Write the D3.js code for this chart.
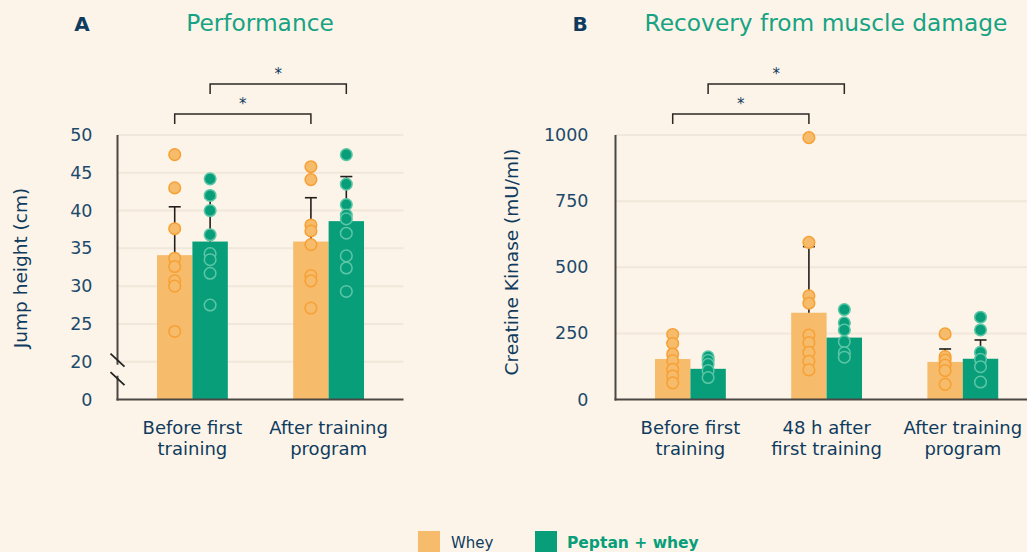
<!DOCTYPE html>
<html>
<head>
<meta charset="utf-8">
<script src="https://cdn.jsdelivr.net/npm/d3@7"></script>
<style>
  body { margin: 0; background: #fcf4e8; }
  svg { display: block; font-family: 'DejaVu Sans', Verdana, sans-serif; }
</style>
</head>
<body>
<svg></svg>
<script>
const w = 1027
const h = 552

// ---- panel A : jump height (cm) ----
const jumpGroups = [['Before first', 'training'], ['After training', 'program']]
const jumpTicks = [15, 20, 25, 30, 35, 40, 45, 50] // 15 sits under the break, shown as "0"
const jumpWheyMean = [34.1, 35.9]
const jumpWheySd = [6.4, 5.8]
const jumpPeptanMean = [35.9, 38.6]
const jumpPeptanSd = [5.8, 5.9]
const jumpWheyDots = [
  [47.4, 43.0, 37.6, 33.7, 32.6, 30.7, 30.0, 24.0],
  [45.8, 44.1, 38.1, 37.3, 35.5, 31.4, 30.7, 27.1]
]
const jumpPeptanDots = [
  [44.2, 42.0, 40.0, 36.8, 34.3, 33.5, 31.7, 27.5],
  [47.4, 43.5, 40.8, 39.4, 38.9, 37.0, 34.0, 32.4, 29.3]
]

// ---- panel B : creatine kinase (mU/ml) ----
const ckGroups = [['Before first', 'training'], ['48 h after', 'first training'], ['After training', 'program']]
const ckTicks = [0, 250, 500, 750, 1000]
const ckWheyMean = [153, 328, 142]
const ckWheySd = [62, 250, 49]
const ckPeptanMean = [116, 234, 154]
const ckPeptanSd = [32, 53, 71]
const ckWheyDots = [
  [246, 212, 172, 147, 114, 89, 63],
  [990, 594, 392, 364, 244, 215, 178, 144, 112],
  [248, 162, 149, 130, 109, 57]
]
const ckPeptanDots = [
  [161, 148, 133, 109, 83],
  [340, 290, 263, 219, 177, 160],
  [311, 263, 178, 152, 124, 66]
]

const seriesNames = ['Whey', 'Peptan + whey']

const col = {
  bg: '#fcf4e8',
  grid: '#f1e7da',
  axis: '#4a4744',
  navy: '#0f3b5f',
  tick: '#1c4a6c',
  teal: '#17a383',
  whey: '#f6bb6b',
  wheyStroke: '#f7a034',
  peptan: '#089e7a',
  peptanStroke: '#5cc6a6'
}

const svg = d3.select('svg')
  .attr('width', w)
  .attr('height', h)

svg.append('rect')
  .attr('width', w).attr('height', h)
  .attr('fill', col.bg)

const yTop = 135
const yBottom = 399.5

const panel = cfg => {
  const g = svg.append('g')

  const xScale = d3.scaleBand()
    .domain(d3.range(cfg.groups.length))
    .range([cfg.x0, cfg.x0 + 136.2 * (cfg.groups.length - 0.48 + 0.58)])
    .paddingInner(0.48)
    .paddingOuter(0.29)

  const subScale = d3.scaleBand()
    .domain([0, 1])
    .range([0, xScale.bandwidth()])

  const yScale = d3.scaleLinear()
    .domain(cfg.domain)
    .range([yBottom, yTop])

  const xEnd = Math.min(w, xScale.range()[1])

  // grid
  g.append('g').selectAll('line')
    .data(cfg.ticks.slice(1))
    .enter().append('line')
    .attr('x1', cfg.x0).attr('x2', xEnd)
    .attr('y1', d => yScale(d)).attr('y2', d => yScale(d))
    .attr('stroke', col.grid)
    .attr('stroke-width', 2)

  // y axis labels
  const yAxisG = g.append('g')
    .attr('transform', `translate(${cfg.x0},0)`)
    .call(d3.axisLeft(yScale)
      .tickValues(cfg.ticks)
      .tickSize(0)
      .tickPadding(cfg.tickPad)
      .tickFormat(cfg.tickFormat))
  yAxisG.select('.domain').remove()
  yAxisG.selectAll('text')
    .attr('fill', col.tick)
    .attr('font-size', 17.5)
    .attr('font-family', "'DejaVu Sans', Verdana, sans-serif")

  yAxisG.append('text')
    .attr('transform', 'rotate(-90)')
    .attr('x', -cfg.yLabelY)
    .attr('y', cfg.yLabelX - cfg.x0)
    .attr('text-anchor', 'middle')
    .attr('fill', col.navy)
    .attr('font-size', 18.5)
    .attr('font-family', "'DejaVu Sans', Verdana, sans-serif")
    .text(cfg.yLabel)

  const series = [
    { mean: cfg.wheyMean, sd: cfg.wheySd, dots: cfg.wheyDots, fill: col.whey, stroke: col.wheyStroke },
    { mean: cfg.peptanMean, sd: cfg.peptanSd, dots: cfg.peptanDots, fill: col.peptan, stroke: col.peptanStroke }
  ]
  const cx = (i, s) => xScale(i) + subScale(s) + subScale.bandwidth() / 2

  series.forEach((ser, s) => {
    // bars
    g.append('g').selectAll('rect')
      .data(ser.mean)
      .enter().append('rect')
      .attr('x', (d, i) => xScale(i) + subScale(s))
      .attr('width', subScale.bandwidth())
      .attr('y', d => yScale(d))
      .attr('height', d => yBottom - yScale(d))
      .attr('fill', ser.fill)
  })

  series.forEach((ser, s) => {
    // error bars (upper only)
    const eb = g.append('g').selectAll('g')
      .data(ser.mean)
      .enter().append('g')
      .attr('stroke', '#231f1c')
      .attr('stroke-width', 1.6)
    eb.append('line')
      .attr('x1', (d, i) => cx(i, s)).attr('x2', (d, i) => cx(i, s))
      .attr('y1', d => yScale(d))
      .attr('y2', (d, i) => yScale(d + ser.sd[i]))
    eb.append('line')
      .attr('x1', (d, i) => cx(i, s) - 6).attr('x2', (d, i) => cx(i, s) + 6)
      .attr('y1', (d, i) => yScale(d + ser.sd[i]))
      .attr('y2', (d, i) => yScale(d + ser.sd[i]))

    // individual points
    const pts = []
    ser.dots.forEach((arr, i) => arr.forEach(v => pts.push({ i, v })))
    g.append('g').selectAll('circle')
      .data(pts)
      .enter().append('circle')
      .attr('cx', d => cx(d.i, s))
      .attr('cy', d => yScale(d.v))
      .attr('r', 5.8)
      .attr('fill', ser.fill)
      .attr('stroke', ser.stroke)
      .attr('stroke-width', 1.5)
  })

  // axes lines
  g.append('line')
    .attr('x1', cfg.x0).attr('x2', cfg.x0)
    .attr('y1', yTop).attr('y2', yBottom + 1)
    .attr('stroke', col.axis).attr('stroke-width', 2)
  g.append('line')
    .attr('x1', cfg.x0 - 1).attr('x2', xEnd)
    .attr('y1', yBottom).attr('y2', yBottom)
    .attr('stroke', col.axis).attr('stroke-width', 2)

  // x labels
  const xl = g.append('g').selectAll('text')
    .data(cfg.groups)
    .enter().append('text')
    .attr('x', (d, i) => xScale(i) + xScale.bandwidth() / 2)
    .attr('y', 434)
    .attr('text-anchor', 'middle')
    .attr('fill', col.navy)
    .attr('font-size', 18)
  xl.selectAll('tspan')
    .data(d => d)
    .enter().append('tspan')
    .attr('x', function () { return this.parentNode.getAttribute('x') })
    .attr('dy', (d, j) => j ? 21 : 0)
    .text(d => d)

  // significance brackets
  cfg.brackets.forEach(b => {
    const xa = cx(b.from, b.s)
    const xb = cx(b.to, b.s)
    g.append('path')
      .attr('d', `M${xa},${b.y + 10}V${b.y}H${xb}V${b.y + 10}`)
      .attr('fill', 'none')
      .attr('stroke', '#2b2724')
      .attr('stroke-width', 1.5)
    g.append('text')
      .attr('x', (xa + xb) / 2)
      .attr('y', b.y - 5)
      .attr('text-anchor', 'middle')
      .attr('fill', col.navy)
      .attr('font-size', 15)
      .text('*')
  })

  // titles
  g.append('text')
    .attr('x', cfg.letterX).attr('y', 31)
    .attr('text-anchor', 'middle')
    .attr('font-weight', 'bold')
    .attr('font-size', 20)
    .attr('fill', col.navy)
    .text(cfg.letter)
  g.append('text')
    .attr('x', cfg.titleX).attr('y', 31)
    .attr('text-anchor', 'middle')
    .attr('font-size', 23.3)
    .attr('fill', col.teal)
    .text(cfg.title)

  return { g, yScale }
}

const a = panel({
  x0: 117.5,
  domain: [15, 50],
  ticks: jumpTicks,
  tickFormat: d => d === 15 ? '0' : d,
  tickPad: 25,
  groups: jumpGroups,
  wheyMean: jumpWheyMean, wheySd: jumpWheySd, wheyDots: jumpWheyDots,
  peptanMean: jumpPeptanMean, peptanSd: jumpPeptanSd, peptanDots: jumpPeptanDots,
  brackets: [{ from: 0, to: 1, s: 0, y: 114 }, { from: 0, to: 1, s: 1, y: 84 }],
  yLabel: 'Jump height (cm)', yLabelX: 27, yLabelY: 268,
  letter: 'A', letterX: 82,
  title: 'Performance', titleX: 260
})

// axis break on panel A
const yb = a.yScale(20)
a.g.append('rect')
  .attr('x', 114).attr('y', yb + 3).attr('width', 7).attr('height', 11)
  .attr('fill', col.bg)
const brk = a.g.append('g').attr('stroke', '#222').attr('stroke-width', 1.8)
;[yb - 1.5, yb + 17].forEach(c => {
  brk.append('line')
    .attr('x1', 110.5).attr('x2', 124.5)
    .attr('y1', c - 6.5).attr('y2', c + 6.5)
})

panel({
  x0: 615.5,
  domain: [0, 1000],
  ticks: ckTicks,
  tickFormat: d => d,
  tickPad: 27,
  groups: ckGroups,
  wheyMean: ckWheyMean, wheySd: ckWheySd, wheyDots: ckWheyDots,
  peptanMean: ckPeptanMean, peptanSd: ckPeptanSd, peptanDots: ckPeptanDots,
  brackets: [{ from: 0, to: 1, s: 0, y: 114 }, { from: 0, to: 1, s: 1, y: 84 }],
  yLabel: 'Creatine Kinase (mU/ml)', yLabelX: 518, yLabelY: 262,
  letter: 'B', letterX: 580,
  title: 'Recovery from muscle damage', titleX: 826
})

// legend
const legend = svg.append('g')
const legendX = [418, 535]
seriesNames.forEach((name, i) => {
  legend.append('rect')
    .attr('x', legendX[i]).attr('y', 531)
    .attr('width', 22).attr('height', 22)
    .attr('fill', i ? col.peptan : col.whey)
  legend.append('text')
    .attr('x', legendX[i] + (i ? 32 : 33)).attr('y', 548)
    .attr('font-size', i ? 15.5 : 15)
    .attr('font-weight', i ? 'bold' : 'normal')
    .attr('fill', i ? col.peptan : col.navy)
    .text(name)
})
</script>
</body>
</html>
